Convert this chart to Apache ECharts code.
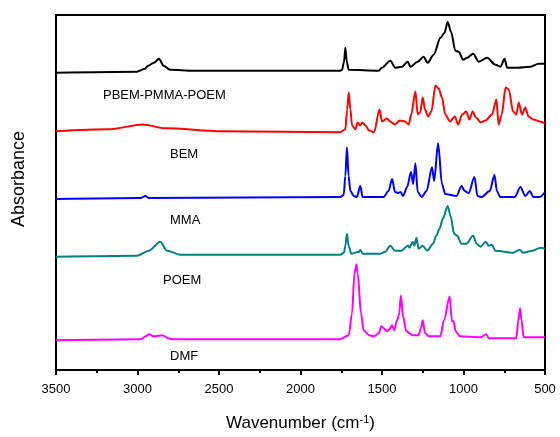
<!DOCTYPE html>
<html>
<head>
<meta charset="utf-8">
<script src="https://cdn.jsdelivr.net/npm/echarts@6/dist/echarts.min.js"></script>
<style>
  html, body { margin: 0; padding: 0; background: #fff; }
  #chart { width: 560px; height: 437px; }
</style>
</head>
<body>
<div id="chart"></div>
<script>
  // x: wavenumber (cm-1), y: absorbance with offset (arbitrary units)
  var specPBEM = [
    [3500, 299], [3003, 300], [2954, 303], [2935, 306], [2899, 309], [2868, 313],
    [2840, 306], [2800, 302], [2658, 301], [1756, 301], [1745, 302], [1733, 310],
    [1725, 324], [1716, 310], [1704, 302], [1520, 301], [1500, 304], [1449, 311],
    [1418, 304], [1377, 305], [1342, 310], [1326, 305], [1281, 310], [1245, 315],
    [1220, 309], [1183, 317], [1141, 334], [1117, 339], [1097, 350], [1076, 340],
    [1050, 321], [1029, 320], [1002, 312], [978, 314], [941, 318], [906, 310],
    [855, 314], [804, 307], [773, 305], [748, 313], [732, 304], [671, 304],
    [589, 305], [538, 308], [500, 308]
  ];
  var specBEMred = [
    [3500, 240], [3177, 242], [2966, 247], [2830, 243], [2483, 240], [1756, 239],
    [1725, 242], [1714, 262], [1704, 279], [1694, 262], [1684, 246], [1663, 242],
    [1649, 249], [1634, 246], [1621, 249], [1601, 246], [1581, 241], [1549, 239],
    [1515, 262], [1500, 250], [1470, 253], [1450, 250], [1420, 247], [1391, 251],
    [1361, 250], [1336, 247], [1321, 257], [1295, 280], [1281, 257], [1266, 259],
    [1250, 274], [1236, 262], [1217, 255], [1197, 260], [1172, 286], [1152, 283],
    [1132, 274], [1112, 257], [1083, 250], [1053, 255], [1033, 247], [1008, 257],
    [983, 260], [964, 252], [944, 260], [924, 254], [894, 249], [864, 251],
    [825, 257], [798, 272], [785, 247], [765, 257], [742, 284], [722, 282],
    [696, 260], [676, 257], [661, 269], [641, 257], [621, 264], [601, 255],
    [572, 252], [532, 250], [500, 248]
  ];
  var specMMAblue = [
    [3500, 172], [2979, 173], [2953, 175], [2929, 173], [1756, 174], [1735, 176],
    [1725, 195], [1715, 224], [1705, 195], [1694, 180], [1673, 175], [1654, 174],
    [1633, 185], [1619, 174], [1490, 174], [1460, 180], [1438, 192], [1420, 179],
    [1400, 178], [1386, 179], [1371, 175], [1346, 184], [1322, 199], [1309, 187],
    [1295, 208], [1281, 179], [1256, 174], [1227, 180], [1193, 204], [1180, 190],
    [1156, 228], [1132, 187], [1112, 177], [1043, 175], [1012, 185], [993, 180],
    [968, 178], [933, 194], [914, 175], [889, 174], [839, 180], [810, 196],
    [795, 180], [775, 174], [686, 174], [651, 184], [621, 175], [593, 180],
    [572, 174], [532, 174], [500, 179]
  ];
  var specPOEMteal = [
    [3500, 114], [3003, 115], [2929, 120], [2861, 129], [2818, 120], [2739, 116],
    [1756, 116], [1733, 118], [1725, 125], [1715, 137], [1705, 125], [1688, 117],
    [1639, 119], [1633, 121], [1619, 117], [1510, 117], [1480, 119], [1449, 125],
    [1420, 120], [1381, 120], [1341, 125], [1331, 123], [1311, 129], [1301, 125],
    [1289, 133], [1276, 122], [1251, 125], [1222, 120], [1187, 127], [1167, 135],
    [1147, 142], [1127, 152], [1097, 165], [1078, 154], [1058, 137], [1038, 135],
    [1013, 127], [983, 127], [941, 135], [919, 127], [894, 124], [864, 129],
    [845, 125], [825, 126], [805, 120], [696, 118], [655, 121], [636, 118],
    [576, 120], [527, 123], [500, 122]
  ];
  var specDMF = [
    [3500, 30], [2979, 31], [2949, 34], [2928, 36], [2904, 34], [2891, 34],
    [2849, 35], [2810, 32], [2781, 31], [2483, 31], [1756, 31], [1704, 35],
    [1684, 57], [1669, 97], [1657, 106], [1649, 97], [1629, 57], [1613, 40],
    [1579, 35], [1549, 34], [1520, 37], [1504, 44], [1490, 42], [1470, 39],
    [1455, 41], [1438, 45], [1425, 40], [1410, 49], [1396, 55], [1384, 75],
    [1371, 54], [1351, 39], [1311, 35], [1276, 35], [1261, 42], [1250, 50],
    [1236, 37], [1212, 34], [1142, 34], [1120, 50], [1085, 74], [1071, 49],
    [1061, 49], [1048, 39], [1023, 34], [894, 33], [861, 36], [845, 32],
    [676, 32], [664, 50], [653, 62], [644, 50], [631, 33], [500, 33]
  ];

  var seriesNames = ['PBEM-PMMA-POEM', 'BEM', 'MMA', 'POEM', 'DMF'];
  var seriesColors = ['#000000', '#ff0000', '#0000ff', '#008080', '#ff00ff'];
  var seriesData = [specPBEM, specBEMred, specMMAblue, specPOEMteal, specDMF];

  var myChart = echarts.init(document.getElementById('chart'));

  var series = [];
  for (var i = 0; i < seriesData.length; i++) {
    series.push({
      name: seriesNames[i],
      type: 'line',
      data: seriesData[i],
      showSymbol: false,
      smooth: 0.3,
      smoothMonotone: 'x',
      lineStyle: { color: seriesColors[i], width: 2 },
      animation: false
    });
  }

  var labelFont = '13px "Liberation Sans", Arial, sans-serif';

  myChart.setOption({
    grid: {
      left: 56, right: 15, top: 15, bottom: 65,
      show: true, borderColor: '#000', borderWidth: 2
    },
    xAxis: {
      type: 'value',
      inverse: true,
      min: 500, max: 3500, interval: 500,
      name: 'Wavenumber (cm{sup|-1})',
      nameLocation: 'middle',
      nameGap: 44,
      nameTextStyle: {
        fontFamily: '"Liberation Sans", Arial, sans-serif',
        fontSize: 17, color: '#000',
        rich: { sup: { fontSize: 11, verticalAlign: 'top', padding: [0, 0, 8, 0], color: '#000' } }
      },
      axisLine: { show: true, onZero: false, lineStyle: { color: '#000', width: 2 } },
      axisTick: { show: true, inside: false, length: 5, lineStyle: { color: '#000', width: 2 } },
      minorTick: { show: true, splitNumber: 2, length: 3, lineStyle: { color: '#000', width: 2 } },
      splitLine: { show: false },
      axisLabel: {
        color: '#000', fontSize: 13, margin: 13,
        fontFamily: '"Liberation Sans", Arial, sans-serif',
        formatter: function (v) { return String(v); }
      }
    },
    yAxis: {
      type: 'value',
      min: 0, max: 357,
      axisLine: { show: true, lineStyle: { color: '#000', width: 2 } },
      axisTick: { show: false },
      axisLabel: { show: false },
      splitLine: { show: false }
    },
    graphic: [
      {
        type: 'text', x: 19, y: 179, rotation: Math.PI / 2,
        style: {
          text: 'Absorbance', font: '18px "Liberation Sans", Arial, sans-serif',
          fill: '#000', align: 'center', verticalAlign: 'middle'
        }
      },
      { type: 'text', left: 103, top: 89, style: { text: 'PBEM-PMMA-POEM', font: labelFont, fill: '#000' } },
      { type: 'text', left: 170, top: 148, style: { text: 'BEM', font: labelFont, fill: '#000' } },
      { type: 'text', left: 170, top: 214, style: { text: 'MMA', font: labelFont, fill: '#000' } },
      { type: 'text', left: 163, top: 274, style: { text: 'POEM', font: labelFont, fill: '#000' } },
      { type: 'text', left: 170, top: 350, style: { text: 'DMF', font: labelFont, fill: '#000' } }
    ],
    series: series
  });

  window.addEventListener('resize', function () {
    myChart.resize();
  });
</script>
</body>
</html>
